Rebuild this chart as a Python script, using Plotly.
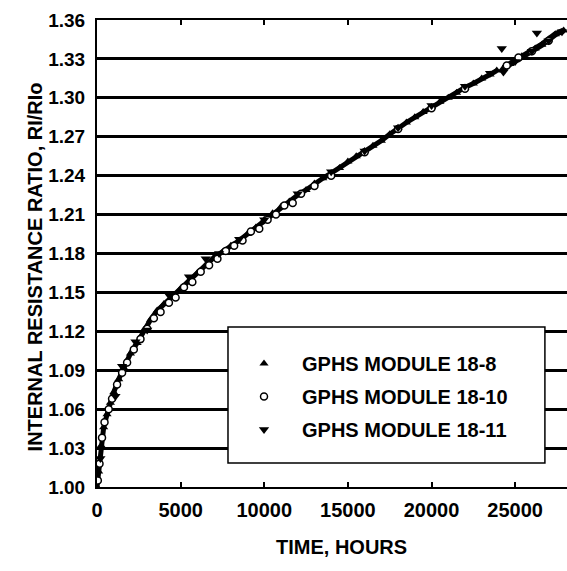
import plotly.graph_objects as go

# ---- data ----
hours_18_8 = [0, 100, 250, 400, 600, 800, 1000, 1300, 1600, 2000, 2400, 2800, 3200, 3600,
              4000, 4500, 5000, 5500, 6000, 6500, 7000, 7500, 8000, 8500, 9000, 9500,
              10000, 10500, 11000, 11500, 12000, 12500, 13000, 13500, 14000, 14500,
              15000, 15500, 16000, 16500, 17000, 17500, 18000, 18500, 19000, 19500,
              20000, 20500, 21000, 21500, 22000, 22500, 23000, 23500, 23900]
ratio_18_8 = [1.000, 1.012, 1.032, 1.046, 1.056, 1.065, 1.073, 1.083, 1.092, 1.103, 1.111,
              1.121, 1.129, 1.136, 1.141, 1.147, 1.153, 1.159, 1.165, 1.171, 1.177, 1.181,
              1.186, 1.190, 1.195, 1.200, 1.206, 1.211, 1.216, 1.220, 1.225, 1.229, 1.234,
              1.238, 1.242, 1.246, 1.251, 1.255, 1.259, 1.263, 1.267, 1.272, 1.277, 1.281,
              1.285, 1.289, 1.293, 1.297, 1.300, 1.304, 1.308, 1.311, 1.315, 1.318, 1.321]

hours_18_8b = [24300, 24700, 25000, 25400, 25800, 26200, 26600, 27000, 27400, 27900]
ratio_18_8b = [1.323, 1.326, 1.329, 1.332, 1.335, 1.338, 1.341, 1.345, 1.349, 1.352]

hours_18_10 = [50, 150, 300, 450, 700, 900, 1200, 1500, 1800, 2200, 2600, 3000, 3400,
               3800, 4300, 4700, 5200, 5700, 6200, 6700, 7200, 7700, 8200, 8700, 9200,
               9700, 10200, 10700, 11200, 11700, 12200, 13000, 14000, 16000, 18000,
               20000, 22000, 24500, 25200, 26000, 27000]
ratio_18_10 = [1.005, 1.018, 1.038, 1.050, 1.060, 1.068, 1.079, 1.088, 1.096, 1.106, 1.114,
               1.122, 1.130, 1.135, 1.142, 1.146, 1.154, 1.158, 1.166, 1.171, 1.176, 1.182,
               1.186, 1.190, 1.197, 1.199, 1.206, 1.210, 1.217, 1.219, 1.226, 1.232, 1.240,
               1.258, 1.276, 1.292, 1.307, 1.325, 1.331, 1.336, 1.344]

hours_18_11 = [200, 1100, 1500, 2300, 3000, 4300, 5500, 6500, 7300, 8500, 10000, 12000,
               14000, 16000, 18000, 20000, 22000, 23500, 24200, 24300, 25000, 26000, 26300,
               27000, 27800]
ratio_18_11 = [1.022, 1.070, 1.093, 1.112, 1.121, 1.148, 1.162, 1.176, 1.180, 1.191, 1.206,
               1.226, 1.243, 1.259, 1.277, 1.294, 1.309, 1.319, 1.338, 1.320, 1.328, 1.336,
               1.350, 1.344, 1.351]

series_names = ["GPHS MODULE 18-8", "GPHS MODULE 18-10", "GPHS MODULE 18-11"]
y_ticks = [1.00, 1.03, 1.06, 1.09, 1.12, 1.15, 1.18, 1.21, 1.24, 1.27, 1.30, 1.33, 1.36]
x_ticks = [0, 5000, 10000, 15000, 20000, 25000]

FONT = "Liberation Sans, Arial, sans-serif"

fig = go.Figure()

# thick band through the dense module 18-8 readings
fig.add_trace(go.Scatter(x=hours_18_8, y=ratio_18_8, mode="lines",
                         line=dict(color="black", width=5), showlegend=False,
                         hoverinfo="skip"))
fig.add_trace(go.Scatter(x=hours_18_8b, y=ratio_18_8b, mode="lines",
                         line=dict(color="black", width=6), showlegend=False,
                         hoverinfo="skip"))

fig.add_trace(go.Scatter(x=hours_18_8 + hours_18_8b, y=ratio_18_8 + ratio_18_8b,
                         mode="markers", name=series_names[0], legendgroup="a",
                         marker=dict(symbol="triangle-up", size=8, color="black")))
fig.add_trace(go.Scatter(x=hours_18_10, y=ratio_18_10, mode="markers",
                         name=series_names[1], legendgroup="b",
                         marker=dict(symbol="circle", size=7, color="white",
                                     line=dict(color="black", width=1.5))))
fig.add_trace(go.Scatter(x=hours_18_11, y=ratio_18_11, mode="markers",
                         name=series_names[2], legendgroup="c",
                         marker=dict(symbol="triangle-down", size=9, color="black")))

L, R, T, B = 97, 0, 20, 84
fig.update_layout(
    width=567, height=571,
    margin=dict(l=L, r=R, t=T, b=B),
    paper_bgcolor="white", plot_bgcolor="white",
    font=dict(family=FONT, color="black", size=19, weight="bold"),
    showlegend=True,
    legend=dict(x=0.2745, y=0.3062, xanchor="left", yanchor="top",
                bgcolor="rgba(0,0,0,0)", borderwidth=0,
                font=dict(family=FONT, size=20, color="black", weight="bold"),
                itemwidth=66, tracegroupgap=4, traceorder="grouped"),
    shapes=[dict(type="rect", xref="paper", yref="paper",
                 x0=0.2787, x1=0.953, y0=0.0514, y1=0.3426,
                 line=dict(color="black", width=1.5), fillcolor="white",
                 layer="above")],
    annotations=[
        dict(text="TIME, HOURS", xref="paper", yref="paper", x=0.521, y=-0.156,
             showarrow=False, font=dict(family=FONT, size=20, weight="bold")),
        dict(text="INTERNAL RESISTANCE RATIO, RI/RIo", xref="paper", yref="paper",
             x=-0.16, y=0.472, textangle=-90, showarrow=False,
             font=dict(family=FONT, size=20, weight="bold")),
    ],
)

fig.update_xaxes(range=[0, 28100], tickvals=x_ticks, ticktext=[str(v) for v in x_ticks],
                 showgrid=False, zeroline=False, showline=True, linecolor="black",
                 linewidth=2, ticks="inside", ticklen=5, tickwidth=1.5, tickcolor="black",
                 mirror="ticks", tickfont=dict(size=20), ticklabelstandoff=4)
fig.update_yaxes(range=[1.0, 1.36], tickvals=y_ticks,
                 ticktext=[f"{v:.2f}" for v in y_ticks],
                 showgrid=True, gridcolor="black", gridwidth=2.5, zeroline=False,
                 showline=True, linecolor="black", linewidth=2, ticks="",
                 tickfont=dict(size=19), ticklabelstandoff=6)

fig.write_html("out.html")
